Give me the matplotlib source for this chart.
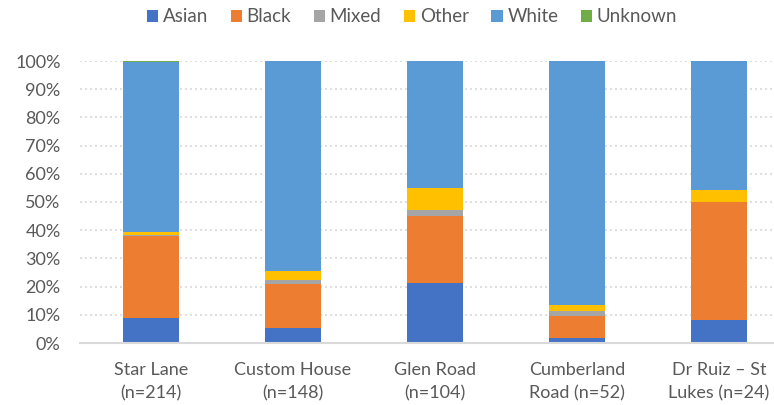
import numpy as np
import matplotlib
matplotlib.use('Agg')
import matplotlib.pyplot as plt
from matplotlib.ticker import PercentFormatter

plt.rcParams['font.family'] = ['Lato', 'DejaVu Sans']

sites = ['Star Lane\n(n=214)', 'Custom House\n(n=148)', 'Glen Road\n(n=104)',
         'Cumberland\nRoad (n=52)', 'Dr Ruiz \u2013 St\nLukes (n=24)']

# percentages per site
asian   = [8.9, 5.4, 21.2, 1.9, 8.3]
black   = [29.0, 15.5, 24.0, 7.7, 41.7]
mixed   = [0.5, 1.4, 1.9, 1.9, 0.0]
other   = [0.9, 3.4, 7.7, 1.9, 4.2]
white   = [60.2, 74.3, 45.2, 86.6, 45.8]
unknown = [0.5, 0.0, 0.0, 0.0, 0.0]

series = [('Asian', asian, '#4472C4'), ('Black', black, '#ED7D31'),
          ('Mixed', mixed, '#A5A5A5'), ('Other', other, '#FFC000'),
          ('White', white, '#5B9BD5'), ('Unknown', unknown, '#70AD47')]

fig = plt.figure(figsize=(7.74, 4.05), dpi=100)
ax = fig.add_axes([80/774, 62/405, 710/774, 282/405])

x = np.arange(len(sites))
bottom = np.zeros(len(sites))
for name, vals, col in series:
    ax.bar(x, vals, 0.4, bottom=bottom, color=col, label=name,
           linewidth=0, zorder=3)
    bottom += np.array(vals)

ax.set_xlim(-0.5, 4.5)
ax.set_ylim(0, 100)
ax.set_yticks(np.arange(0, 101, 10))
ax.yaxis.set_major_formatter(PercentFormatter(decimals=0))
ax.grid(axis='y', color='#d9d9d9', linestyle=(0, (1.2, 1.8)), linewidth=1.2, zorder=0)
for s in ['top', 'right', 'left']:
    ax.spines[s].set_visible(False)
ax.spines['bottom'].set_color('#d9d9d9')
ax.spines['bottom'].set_linewidth(1.5)
ax.spines['bottom'].set_zorder(4)
ax.tick_params(length=0, colors='#595959', labelsize=13)
ax.tick_params(axis='y', pad=14)
ax.tick_params(axis='x', pad=14)
ax.set_xticks(x)
ax.set_xticklabels(sites, linespacing=1.55)

fig.legend(loc='center', bbox_to_anchor=(412/774, 1 - 17/405), ncol=6, frameon=False,
           fontsize=13.5, labelcolor='#595959', handlelength=0.6, handleheight=0.6,
           handletextpad=0.25, columnspacing=1.2)

fig.savefig('out.png', dpi=100)
